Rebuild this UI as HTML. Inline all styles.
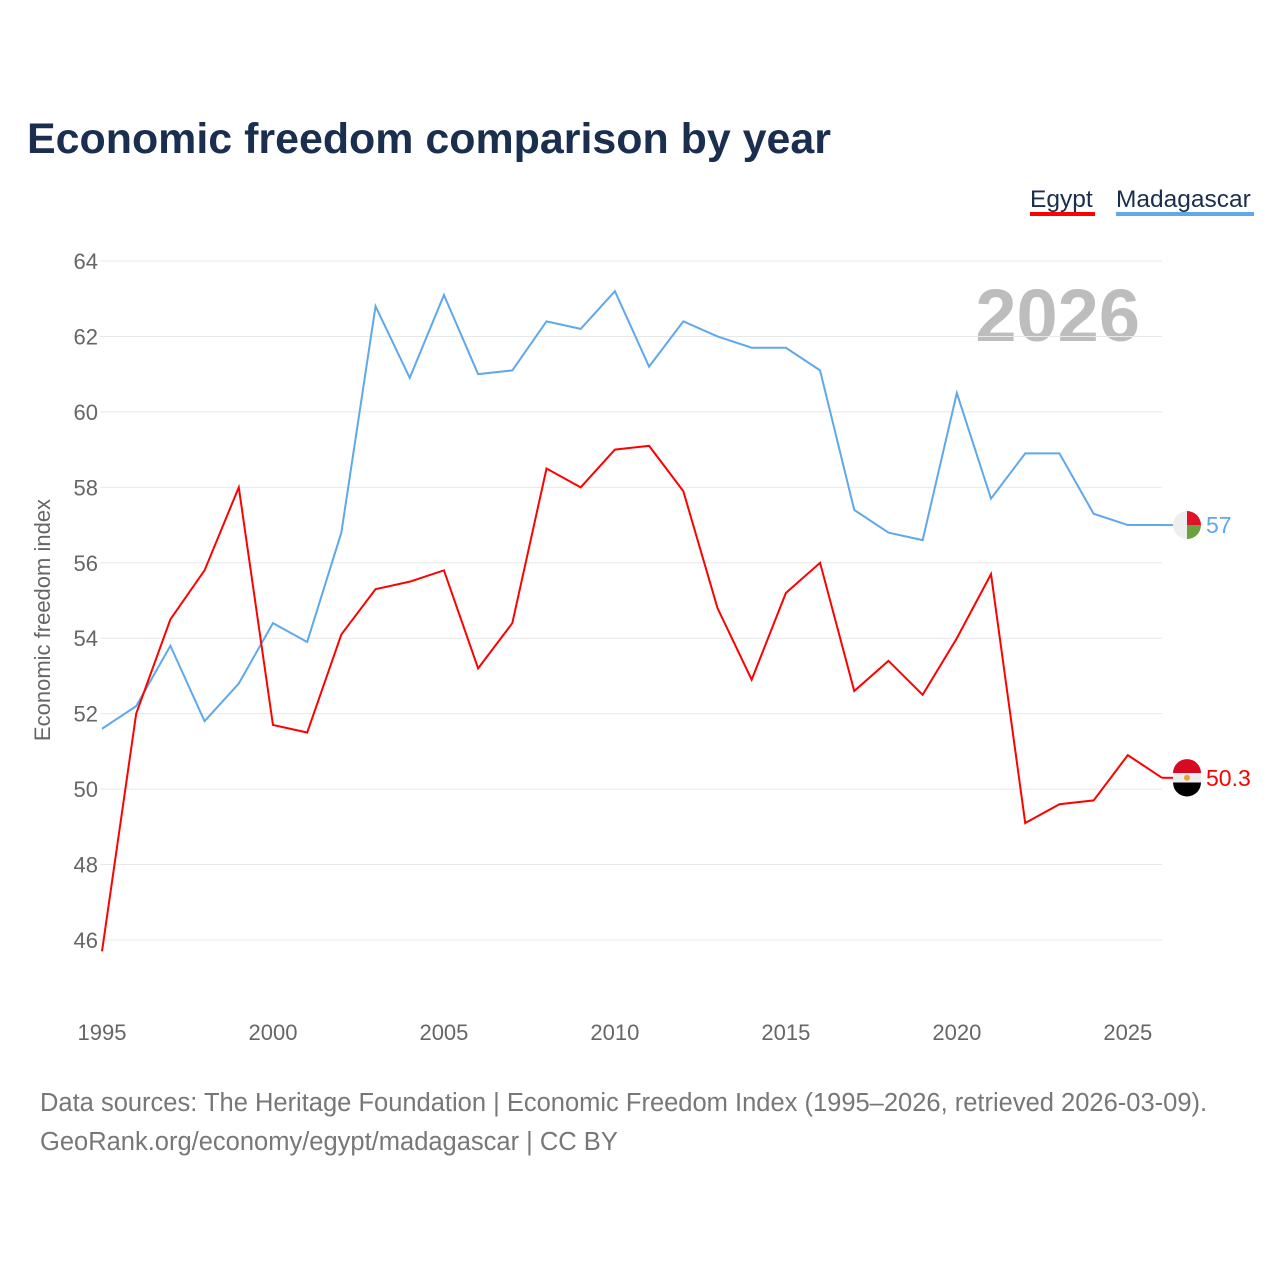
<!DOCTYPE html>
<html><head><meta charset="utf-8"><style>
body{margin:0;background:#fff;font-family:"Liberation Sans",sans-serif;}
</style></head><body>
<svg id="c" width="1280" height="1280" xmlns="http://www.w3.org/2000/svg" style="display:block">
<text x="27" y="153" font-size="43" font-weight="bold" fill="#1a2e4f" textLength="804" lengthAdjust="spacingAndGlyphs">Economic freedom comparison by year</text>
<g><text x="1030" y="207" font-size="24.5" fill="#1a2e4f">Egypt</text><rect x="1030" y="212" width="65" height="4" fill="#ff0000"/></g>
<g><text x="1116" y="207" font-size="24.5" fill="#1a2e4f">Madagascar</text><rect x="1116" y="212" width="138" height="4" fill="#5ea8ec"/></g>
<text x="1140" y="341" font-size="74" font-weight="bold" fill="#bdbdbd" text-anchor="end">2026</text>
<text transform="translate(50,620) rotate(-90)" font-size="22" fill="#666" text-anchor="middle">Economic freedom index</text>
<g id="grid"></g><g id="lines"></g><g id="ends"></g>
<text x="40" y="1111" font-size="25.5" fill="#777">Data sources: The Heritage Foundation | Economic Freedom Index (1995–2026, retrieved 2026-03-09).</text>
<text x="40" y="1150" font-size="25.5" fill="#777">GeoRank.org/economy/egypt/madagascar | CC BY</text>
</svg>
<script>
const years=[1995,1996,1997,1998,1999,2000,2001,2002,2003,2004,2005,2006,2007,2008,2009,2010,2011,2012,2013,2014,2015,2016,2017,2018,2019,2020,2021,2022,2023,2024,2025,2026];
const madagascar=[51.6,52.2,53.8,51.8,52.8,54.4,53.9,56.8,62.8,60.9,63.1,61.0,61.1,62.4,62.2,63.2,61.2,62.4,62.0,61.7,61.7,61.1,57.4,56.8,56.6,60.5,57.7,58.9,58.9,57.3,57.0,57.0];
const egypt=[45.7,52.0,54.5,55.8,58.0,51.7,51.5,54.1,55.3,55.5,55.8,53.2,54.4,58.5,58.0,59.0,59.1,57.9,54.8,52.9,55.2,56.0,52.6,53.4,52.5,54.0,55.7,49.1,49.6,49.7,50.9,50.3];
const yTicks=[46,48,50,52,54,56,58,60,62,64];
const xTicks=[1995,2000,2005,2010,2015,2020,2025];
const NS="http://www.w3.org/2000/svg";
const x=v=>102+(v-1995)*(1162-102)/31;
const y=v=>261+(64-v)*(940-261)/18;
function mk(t,a,p){const e=document.createElementNS(NS,t);for(const k in a)e.setAttribute(k,a[k]);p.appendChild(e);return e;}
const g=document.getElementById('grid');
yTicks.forEach(t=>{
 const l=mk('line',{x1:100,x2:1162,y1:y(t),y2:y(t),stroke:'#e8e8e8','stroke-width':1},g);
 
 
 const tx=mk('text',{x:98,y:y(t)+8,'font-size':22,fill:'#666','text-anchor':'end'},g);tx.textContent=t;
 
 
});
xTicks.forEach(t=>{
 const tx=mk('text',{x:x(t),y:1040,'font-size':22,fill:'#666','text-anchor':'middle'},g);tx.textContent=t;
 
 
});
const L=document.getElementById('lines');
function line(data,col,name){
 const p=mk('polyline',{points:data.map((v,i)=>x(years[i])+','+y(v)).join(' '),fill:'none',stroke:col,'stroke-width':2,'stroke-linejoin':'miter'},L);
 
 
}
line(madagascar,'#5ea8ec','madagascar-line');
line(egypt,'#ff0000','egypt-line');
const E=document.getElementById('ends');
function endLabel(data,col,name,flag){
 const v=data[data.length-1],cx=1187,cy=y(v);
 mk('line',{x1:x(2026),x2:cx-14,y1:cy,y2:cy,stroke:col,'stroke-width':2},E);
 const fg=mk('g',{},E);
 
 
 if(flag==='mg'){
  mk('path',{d:`M${cx},${cy-14} A14,14 0 0,0 ${cx},${cy+14} Z`,fill:'#eee'},fg);
  mk('path',{d:`M${cx},${cy-14} A14,14 0 0,1 ${cx+14},${cy} L${cx},${cy} Z`,fill:'#e0112b'},fg);
  mk('path',{d:`M${cx+14},${cy} A14,14 0 0,1 ${cx},${cy+14} L${cx},${cy} Z`,fill:'#6ca13f'},fg);
 }else{
  mk('path',{d:`M${cx-14},${cy-4.7} A14,14 0 0,1 ${cx+14},${cy-4.7} Z`,fill:'#d80a22'},fg);
  mk('rect',{x:cx-14,y:cy-4.7,width:28,height:9.4,fill:'#eee'},fg);
  mk('path',{d:`M${cx-14},${cy+4.7} L${cx+14},${cy+4.7} A14,14 0 0,1 ${cx-14},${cy+4.7} Z`,fill:'#000'},fg);
  mk('circle',{cx:cx,cy:cy,r:3,fill:'#f0a030'},fg);
 }
 const t=mk('text',{x:cx+19,y:cy+8,'font-size':23,fill:col},E);t.textContent=v;
 
 
}
endLabel(madagascar,'#5ea8ec','madagascar','mg');
endLabel(egypt,'#ff0000','egypt','eg');
</script>
</body></html>
